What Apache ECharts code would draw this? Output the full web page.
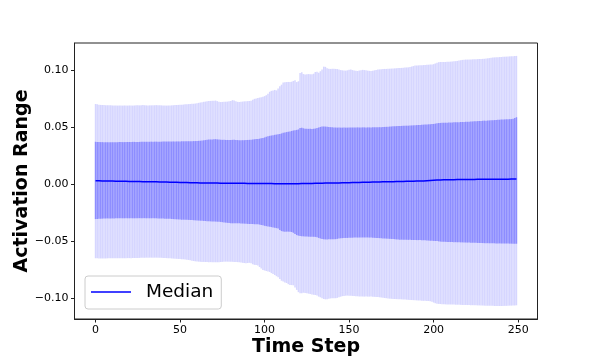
<!DOCTYPE html>
<html>
<head>
<meta charset="utf-8">
<script src="https://cdn.jsdelivr.net/npm/echarts@6/dist/echarts.min.js"></script>
<style>html,body{margin:0;padding:0;background:#fff}#c{width:598px;height:359px}</style>
</head>
<body>
<div id="c"></div>
<script>
var xTicks = [0, 50, 100, 150, 200, 250];
var yTicks = [-0.10, -0.05, 0.00, 0.05, 0.10];
var legendLabels = ['Median'];

var outerHigh = [
0.0703,0.0700,0.0697,0.0695,0.0694,0.0693,0.0692,0.0692,0.0691,0.0691,0.0690,
0.0690,0.0690,0.0689,0.0690,0.0690,0.0689,0.0690,0.0690,0.0689,0.0690,
0.0690,0.0689,0.0690,0.0691,0.0692,0.0691,0.0692,0.0693,0.0692,0.0691,
0.0690,0.0691,0.0691,0.0692,0.0692,0.0693,0.0692,0.0692,0.0691,0.0690,
0.0690,0.0689,0.0690,0.0690,0.0691,0.0692,0.0693,0.0694,0.0695,0.0696,
0.0697,0.0698,0.0700,0.0701,0.0702,0.0703,0.0704,0.0705,0.0707,0.0710,
0.0713,0.0716,0.0719,0.0722,0.0724,0.0726,0.0728,0.0730,0.0731,0.0732,
0.0733,0.0728,0.0723,0.0720,0.0721,0.0722,0.0723,0.0724,0.0726,0.0730,
0.0737,0.0733,0.0726,0.0722,0.0721,0.0722,0.0724,0.0726,0.0727,0.0728,
0.0729,0.0732,0.0740,0.0748,0.0752,0.0756,0.0759,0.0762,0.0766,0.0772,
0.0780,0.0792,0.0810,0.0818,0.0822,0.0826,0.0822,0.0838,0.0858,0.0872,
0.0890,0.0894,0.0895,0.0896,0.0896,0.0898,0.0905,0.0910,0.0895,0.0902,
0.0975,0.0980,0.0965,0.0962,0.0963,0.0965,0.0964,0.0963,0.0968,0.0983,
0.0985,0.0977,0.0990,0.1005,0.1030,0.1028,0.1016,0.1012,0.1010,0.1012,
0.1011,0.1010,0.1009,0.1005,0.1000,0.0998,0.0996,0.0995,0.0998,0.1002,
0.1005,0.1000,0.0997,0.0994,0.0992,0.0996,0.0999,0.1002,0.1000,0.0998,
0.0995,0.0993,0.0992,0.0995,0.0998,0.1001,0.1004,0.1006,0.1008,0.1009,
0.1010,0.1010,0.1011,0.1012,0.1013,0.1014,0.1015,0.1016,0.1017,0.1018,
0.1019,0.1020,0.1022,0.1023,0.1024,0.1027,0.1031,0.1035,0.1039,0.1040,
0.1041,0.1042,0.1043,0.1044,0.1045,0.1046,0.1047,0.1048,0.1049,0.1052,
0.1058,0.1064,0.1069,0.1071,0.1071,0.1070,0.1071,0.1072,0.1073,0.1074,
0.1076,0.1077,0.1078,0.1080,0.1083,0.1086,0.1089,0.1091,0.1092,0.1092,
0.1093,0.1093,0.1094,0.1095,0.1095,0.1096,0.1097,0.1097,0.1098,0.1099,
0.1101,0.1103,0.1105,0.1107,0.1109,0.1111,0.1112,0.1113,0.1114,0.1115,
0.1116,0.1117,0.1118,0.1119,0.1120,0.1121,0.1122,0.1123,0.1124
];

var innerHigh = [
0.0372,0.0371,0.0370,0.0369,0.0369,0.0368,0.0368,0.0368,0.0368,0.0368,0.0368,
0.0368,0.0368,0.0368,0.0369,0.0369,0.0369,0.0369,0.0370,0.0370,0.0370,
0.0370,0.0371,0.0371,0.0371,0.0371,0.0371,0.0372,0.0372,0.0372,0.0372,
0.0372,0.0372,0.0373,0.0373,0.0373,0.0373,0.0373,0.0373,0.0373,0.0374,
0.0374,0.0374,0.0374,0.0374,0.0374,0.0375,0.0375,0.0375,0.0375,0.0375,
0.0376,0.0376,0.0376,0.0377,0.0377,0.0377,0.0377,0.0378,0.0378,0.0379,
0.0380,0.0381,0.0383,0.0385,0.0387,0.0389,0.0391,0.0392,0.0393,0.0394,
0.0395,0.0393,0.0391,0.0390,0.0389,0.0389,0.0388,0.0388,0.0388,0.0388,
0.0389,0.0389,0.0388,0.0387,0.0386,0.0386,0.0386,0.0386,0.0387,0.0388,
0.0389,0.0390,0.0392,0.0394,0.0396,0.0397,0.0399,0.0402,0.0406,0.0410,
0.0416,0.0420,0.0424,0.0427,0.0430,0.0433,0.0435,0.0438,0.0441,0.0445,
0.0450,0.0454,0.0457,0.0460,0.0463,0.0467,0.0471,0.0474,0.0476,0.0480,
0.0492,0.0494,0.0490,0.0487,0.0486,0.0485,0.0485,0.0484,0.0486,0.0488,
0.0492,0.0497,0.0502,0.0505,0.0506,0.0505,0.0503,0.0501,0.0500,0.0499,
0.0498,0.0497,0.0496,0.0496,0.0496,0.0496,0.0496,0.0496,0.0496,0.0497,
0.0497,0.0497,0.0497,0.0497,0.0498,0.0498,0.0498,0.0498,0.0498,0.0498,
0.0498,0.0498,0.0498,0.0499,0.0499,0.0499,0.0499,0.0500,0.0500,0.0501,
0.0502,0.0503,0.0504,0.0505,0.0506,0.0507,0.0508,0.0509,0.0510,0.0511,
0.0511,0.0512,0.0512,0.0513,0.0513,0.0514,0.0515,0.0516,0.0517,0.0518,
0.0519,0.0520,0.0521,0.0522,0.0523,0.0524,0.0525,0.0526,0.0527,0.0528,
0.0531,0.0534,0.0536,0.0537,0.0538,0.0538,0.0539,0.0539,0.0540,0.0540,
0.0541,0.0542,0.0543,0.0543,0.0544,0.0545,0.0545,0.0546,0.0547,0.0547,
0.0548,0.0549,0.0550,0.0551,0.0552,0.0553,0.0554,0.0555,0.0556,0.0557,
0.0557,0.0558,0.0559,0.0560,0.0561,0.0562,0.0563,0.0564,0.0565,0.0566,
0.0567,0.0568,0.0569,0.0569,0.0570,0.0571,0.0573,0.0580,0.0587
];

var innerLow = [
-0.0305,-0.0304,-0.0303,-0.0302,-0.0301,-0.0300,-0.0300,-0.0299,-0.0299,-0.0299,-0.0299,
-0.0299,-0.0298,-0.0298,-0.0298,-0.0298,-0.0298,-0.0298,-0.0298,-0.0298,-0.0298,
-0.0298,-0.0298,-0.0298,-0.0297,-0.0297,-0.0297,-0.0297,-0.0297,-0.0297,-0.0298,
-0.0298,-0.0298,-0.0298,-0.0298,-0.0298,-0.0298,-0.0299,-0.0299,-0.0300,-0.0300,
-0.0301,-0.0302,-0.0302,-0.0303,-0.0304,-0.0305,-0.0306,-0.0307,-0.0308,-0.0309,
-0.0310,-0.0310,-0.0311,-0.0311,-0.0312,-0.0313,-0.0314,-0.0315,-0.0316,-0.0317,
-0.0318,-0.0319,-0.0320,-0.0321,-0.0322,-0.0323,-0.0324,-0.0325,-0.0326,-0.0326,
-0.0327,-0.0328,-0.0329,-0.0330,-0.0332,-0.0334,-0.0336,-0.0338,-0.0340,-0.0342,
-0.0342,-0.0342,-0.0342,-0.0342,-0.0342,-0.0343,-0.0344,-0.0345,-0.0346,-0.0347,
-0.0348,-0.0349,-0.0349,-0.0350,-0.0350,-0.0351,-0.0353,-0.0356,-0.0360,-0.0364,
-0.0367,-0.0370,-0.0372,-0.0375,-0.0378,-0.0381,-0.0384,-0.0387,-0.0400,-0.0410,
-0.0414,-0.0415,-0.0415,-0.0415,-0.0416,-0.0418,-0.0425,-0.0435,-0.0445,-0.0450,
-0.0453,-0.0455,-0.0456,-0.0457,-0.0458,-0.0459,-0.0459,-0.0460,-0.0460,-0.0461,
-0.0465,-0.0470,-0.0475,-0.0480,-0.0482,-0.0483,-0.0483,-0.0482,-0.0482,-0.0482,
-0.0482,-0.0481,-0.0478,-0.0475,-0.0473,-0.0472,-0.0471,-0.0470,-0.0470,-0.0469,
-0.0468,-0.0468,-0.0467,-0.0467,-0.0467,-0.0466,-0.0466,-0.0466,-0.0466,-0.0466,
-0.0466,-0.0467,-0.0467,-0.0468,-0.0469,-0.0470,-0.0471,-0.0472,-0.0473,-0.0474,
-0.0475,-0.0476,-0.0477,-0.0478,-0.0479,-0.0480,-0.0481,-0.0483,-0.0484,-0.0485,
-0.0485,-0.0486,-0.0486,-0.0486,-0.0487,-0.0487,-0.0488,-0.0488,-0.0488,-0.0489,
-0.0489,-0.0489,-0.0490,-0.0490,-0.0491,-0.0492,-0.0493,-0.0494,-0.0495,-0.0496,
-0.0497,-0.0498,-0.0500,-0.0502,-0.0503,-0.0504,-0.0504,-0.0505,-0.0505,-0.0506,
-0.0506,-0.0507,-0.0507,-0.0508,-0.0508,-0.0509,-0.0509,-0.0510,-0.0510,-0.0511,
-0.0511,-0.0512,-0.0512,-0.0513,-0.0513,-0.0514,-0.0514,-0.0515,-0.0515,-0.0516,
-0.0516,-0.0516,-0.0517,-0.0517,-0.0517,-0.0517,-0.0518,-0.0518,-0.0518,-0.0518,
-0.0519,-0.0519,-0.0519,-0.0519,-0.0520,-0.0520,-0.0520,-0.0520,-0.0521
];

var outerLow = [
-0.0648,-0.0649,-0.0650,-0.0650,-0.0650,-0.0650,-0.0650,-0.0649,-0.0649,-0.0649,-0.0648,
-0.0648,-0.0648,-0.0648,-0.0648,-0.0648,-0.0648,-0.0648,-0.0648,-0.0647,-0.0647,
-0.0647,-0.0646,-0.0646,-0.0645,-0.0645,-0.0645,-0.0644,-0.0644,-0.0644,-0.0643,
-0.0643,-0.0643,-0.0643,-0.0643,-0.0643,-0.0643,-0.0643,-0.0644,-0.0644,-0.0645,
-0.0646,-0.0647,-0.0648,-0.0649,-0.0650,-0.0651,-0.0652,-0.0653,-0.0654,-0.0655,
-0.0656,-0.0657,-0.0659,-0.0661,-0.0663,-0.0666,-0.0669,-0.0672,-0.0675,-0.0677,
-0.0678,-0.0679,-0.0680,-0.0680,-0.0681,-0.0681,-0.0682,-0.0682,-0.0683,-0.0683,
-0.0683,-0.0683,-0.0682,-0.0681,-0.0680,-0.0679,-0.0678,-0.0678,-0.0678,-0.0678,
-0.0679,-0.0680,-0.0681,-0.0682,-0.0684,-0.0686,-0.0688,-0.0690,-0.0692,-0.0690,
-0.0688,-0.0692,-0.0700,-0.0706,-0.0708,-0.0712,-0.0725,-0.0738,-0.0750,-0.0755,
-0.0760,-0.0765,-0.0768,-0.0778,-0.0785,-0.0795,-0.0805,-0.0815,-0.0830,-0.0845,
-0.0852,-0.0860,-0.0865,-0.0875,-0.0882,-0.0883,-0.0885,-0.0905,-0.0925,-0.0945,
-0.0955,-0.0955,-0.0950,-0.0952,-0.0955,-0.0958,-0.0960,-0.0965,-0.0968,-0.0970,
-0.0975,-0.0984,-0.0990,-0.0998,-0.1005,-0.1008,-0.1006,-0.1002,-0.1000,-0.0999,
-0.0999,-0.0998,-0.0995,-0.0990,-0.0985,-0.0980,-0.0978,-0.0976,-0.0975,-0.0976,
-0.0977,-0.0978,-0.0979,-0.0980,-0.0981,-0.0982,-0.0983,-0.0983,-0.0984,-0.0984,
-0.0984,-0.0984,-0.0984,-0.0985,-0.0986,-0.0987,-0.0988,-0.0990,-0.0992,-0.0994,
-0.0996,-0.0998,-0.1000,-0.1002,-0.1003,-0.1004,-0.1005,-0.1006,-0.1007,-0.1008,
-0.1008,-0.1009,-0.1010,-0.1011,-0.1012,-0.1013,-0.1014,-0.1015,-0.1016,-0.1017,
-0.1018,-0.1019,-0.1020,-0.1021,-0.1021,-0.1022,-0.1022,-0.1025,-0.1030,-0.1036,
-0.1042,-0.1046,-0.1048,-0.1049,-0.1050,-0.1051,-0.1052,-0.1052,-0.1053,-0.1053,
-0.1054,-0.1054,-0.1055,-0.1055,-0.1056,-0.1056,-0.1057,-0.1057,-0.1057,-0.1058,
-0.1058,-0.1059,-0.1059,-0.1060,-0.1060,-0.1061,-0.1061,-0.1062,-0.1062,-0.1063,
-0.1063,-0.1064,-0.1064,-0.1065,-0.1065,-0.1066,-0.1066,-0.1066,-0.1066,-0.1066,
-0.1066,-0.1065,-0.1065,-0.1064,-0.1063,-0.1063,-0.1062,-0.1061,-0.1060
];

var median = [
0.0030,0.0030,0.0030,0.0029,0.0029,0.0029,0.0029,0.0028,0.0028,0.0028,0.0028,
0.0027,0.0027,0.0027,0.0027,0.0026,0.0026,0.0026,0.0026,0.0025,0.0025,
0.0025,0.0025,0.0024,0.0024,0.0024,0.0024,0.0023,0.0023,0.0023,0.0022,
0.0022,0.0022,0.0022,0.0021,0.0021,0.0021,0.0020,0.0020,0.0020,0.0019,
0.0019,0.0019,0.0018,0.0018,0.0018,0.0017,0.0017,0.0017,0.0016,0.0016,
0.0016,0.0015,0.0015,0.0015,0.0014,0.0014,0.0014,0.0013,0.0013,0.0013,
0.0012,0.0012,0.0012,0.0012,0.0011,0.0011,0.0011,0.0011,0.0010,0.0010,
0.0010,0.0010,0.0010,0.0009,0.0009,0.0009,0.0009,0.0009,0.0009,0.0009,
0.0009,0.0008,0.0008,0.0008,0.0008,0.0008,0.0008,0.0008,0.0007,0.0007,
0.0007,0.0007,0.0007,0.0007,0.0007,0.0007,0.0006,0.0006,0.0006,0.0006,
0.0006,0.0006,0.0006,0.0006,0.0006,0.0005,0.0005,0.0005,0.0005,0.0005,
0.0005,0.0005,0.0005,0.0005,0.0005,0.0005,0.0005,0.0005,0.0005,0.0005,
0.0005,0.0006,0.0006,0.0006,0.0006,0.0007,0.0007,0.0007,0.0007,0.0008,
0.0008,0.0008,0.0009,0.0009,0.0009,0.0010,0.0010,0.0010,0.0011,0.0011,
0.0011,0.0012,0.0012,0.0012,0.0013,0.0013,0.0013,0.0014,0.0014,0.0014,
0.0015,0.0015,0.0015,0.0016,0.0016,0.0016,0.0017,0.0017,0.0017,0.0018,
0.0018,0.0018,0.0019,0.0019,0.0019,0.0020,0.0020,0.0020,0.0021,0.0021,
0.0021,0.0022,0.0022,0.0022,0.0023,0.0023,0.0023,0.0024,0.0024,0.0024,
0.0025,0.0025,0.0025,0.0026,0.0026,0.0026,0.0027,0.0027,0.0027,0.0028,
0.0028,0.0028,0.0029,0.0029,0.0030,0.0031,0.0032,0.0033,0.0034,0.0035,
0.0036,0.0037,0.0038,0.0038,0.0039,0.0039,0.0039,0.0040,0.0040,0.0040,
0.0040,0.0040,0.0041,0.0041,0.0041,0.0041,0.0041,0.0041,0.0042,0.0042,
0.0042,0.0042,0.0042,0.0042,0.0042,0.0043,0.0043,0.0043,0.0043,0.0043,
0.0043,0.0043,0.0043,0.0044,0.0044,0.0044,0.0044,0.0044,0.0044,0.0044,
0.0044,0.0044,0.0044,0.0044,0.0044,0.0045,0.0045,0.0045,0.0045
];

var timeSteps = median.map(function (_, i) { return i; });

var outerData = timeSteps.map(function (t, i) { return [t, outerLow[i], outerHigh[i]]; });
var innerData = timeSteps.map(function (t, i) { return [t, innerLow[i], innerHigh[i]]; });
var medianData = timeSteps.map(function (t, i) { return [t, median[i]]; });

function vline(color, width) {
  return function (params, api) {
    var p1 = api.coord([api.value(0), api.value(2)]);
    var p2 = api.coord([api.value(0), api.value(1)]);
    return {
      type: 'line',
      shape: { x1: p1[0], y1: p1[1], x2: p2[0], y2: p2[1] },
      style: { stroke: color, lineWidth: width }
    };
  };
}

var FONT = 'DejaVu Sans';
function fmtY(v) {
  var s = Math.abs(v).toFixed(2);
  return (v < -1e-9 ? '\u2212' : '') + s;
}

var chart = echarts.init(document.getElementById('c'), null, { renderer: 'canvas' });
chart.setOption({
  animation: false,
  backgroundColor: '#fff',
  grid: {
    left: 74.5, right: 60.5, top: 43, bottom: 40,
    outerBoundsMode: 'none', containLabel: false,
    show: true, borderColor: '#222', borderWidth: 1, backgroundColor: 'transparent'
  },
  legend: {
    data: [{ name: legendLabels[0], icon: 'rect' }],
    left: 85, top: 276,
    padding: [5, 8, 6, 6],
    itemWidth: 40, itemHeight: 1.5,
    borderColor: '#cccccc', borderWidth: 1, borderRadius: 3,
    backgroundColor: 'rgba(255,255,255,0.8)',
    textStyle: { fontFamily: FONT, fontSize: 18.5, color: '#000', padding: [0, 0, 0, 10], lineHeight: 22 }
  },
  xAxis: {
    type: 'value',
    min: -12.45, max: 261.45,
    name: 'Time Step', nameLocation: 'middle', nameGap: 19, nameMoveOverlap: false,
    nameTextStyle: { fontFamily: FONT, fontSize: 19, fontWeight: 'bold', color: '#000' },
    axisLine: { show: true, onZero: false, lineStyle: { color: '#222', width: 1 } },
    axisTick: { show: true, length: 3.5, lineStyle: { color: '#222', width: 1 }, customValues: xTicks },
    axisLabel: { fontFamily: FONT, fontSize: 11, color: '#000', margin: 6, customValues: xTicks },
    splitLine: { show: false }
  },
  yAxis: {
    type: 'value',
    min: -0.118, max: 0.1237,
    name: 'Activation Range', nameLocation: 'middle', nameGap: 43, nameMoveOverlap: false,
    nameTextStyle: { fontFamily: FONT, fontSize: 19, fontWeight: 'bold', color: '#000' },
    axisLine: { show: true, onZero: false, lineStyle: { color: '#222', width: 1 } },
    axisTick: { show: true, length: 3.5, lineStyle: { color: '#222', width: 1 }, customValues: yTicks },
    axisLabel: { fontFamily: FONT, fontSize: 11, color: '#000', margin: 6, customValues: yTicks, formatter: fmtY },
    splitLine: { show: false }
  },
  series: [
    {
      name: 'Outer range', type: 'custom', data: outerData,
      encode: { x: 0, y: [1, 2] }, renderItem: vline('rgba(0,0,255,0.16)', 1.5), z: 1, silent: true
    },
    {
      name: 'Inner range', type: 'custom', data: innerData,
      encode: { x: 0, y: [1, 2] }, renderItem: vline('rgba(0,0,255,0.34)', 1.5), z: 2, silent: true
    },
    {
      name: 'Median', type: 'line', data: medianData,
      symbol: 'none', showSymbol: false,
      lineStyle: { color: '#0000ff', width: 1.5 }, itemStyle: { color: '#0000ff' },
      z: 5, silent: true
    }
  ]
});
</script>
</body>
</html>
